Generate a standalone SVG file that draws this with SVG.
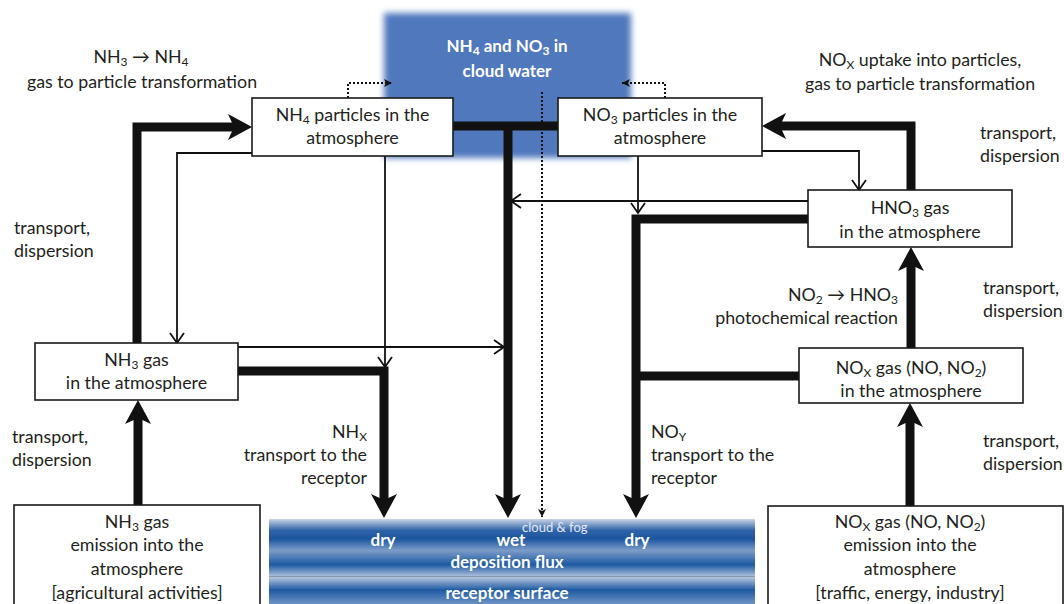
<svg xmlns="http://www.w3.org/2000/svg" width="1064" height="604" viewBox="0 0 1064 604">
<defs>
<style>
text{font-family:Lato,"Liberation Sans",sans-serif;font-size:17.8px;fill:#231f20}
.c{text-anchor:middle}
.e{text-anchor:end}
.w{fill:#fff;font-weight:bold;font-size:17px}
.box{fill:#fff;stroke:#1a1a1a;stroke-width:1.6}
.thick{fill:none;stroke:#111;stroke-width:9;stroke-linejoin:miter;stroke-linecap:butt}
.thin{fill:none;stroke:#111;stroke-width:1.8}
.dot{fill:none;stroke:#111;stroke-width:2;stroke-dasharray:2 2}
</style>
<marker id="big" markerUnits="userSpaceOnUse" markerWidth="30" markerHeight="30" refX="8" refY="13" orient="auto" overflow="visible">
<path d="M0,0 L24,13 L0,26 L6,13 Z" fill="#111"/>
</marker>
<marker id="open" markerUnits="userSpaceOnUse" markerWidth="14" markerHeight="16" refX="10" refY="7" orient="auto" overflow="visible">
<path d="M0,0 L10,7 L0,14" fill="none" stroke="#111" stroke-width="1.8"/>
</marker>
<marker id="small" markerUnits="userSpaceOnUse" markerWidth="12" markerHeight="12" refX="8" refY="4" orient="auto" overflow="visible">
<path d="M0,0 L8,4 L0,8 L2,4 Z" fill="#111"/>
</marker>
<filter id="soft" x="-10%" y="-10%" width="120%" height="120%"><feGaussianBlur stdDeviation="3"/></filter>
<linearGradient id="band1" x1="0" y1="0" x2="0" y2="1">
<stop offset="0" stop-color="#c9d3e6"/>
<stop offset="0.2" stop-color="#2f63a8"/>
<stop offset="0.35" stop-color="#1c569f"/>
<stop offset="0.55" stop-color="#7c9cc9"/>
<stop offset="0.8" stop-color="#1d5aa2"/>
<stop offset="1" stop-color="#a9bddb"/>
</linearGradient>
<linearGradient id="band2" x1="0" y1="0" x2="0" y2="1">
<stop offset="0" stop-color="#c3cfe4"/>
<stop offset="0.5" stop-color="#1d5aa2"/>
<stop offset="1" stop-color="#6f93c6"/>
</linearGradient>
</defs>
<rect width="1064" height="604" fill="#fff"/>

<g id="cloud">
<rect x="384" y="13" width="247" height="145" fill="#4f78bd" filter="url(#soft)"/>
<text class="c w" x="507" y="52">NH<tspan font-size="12" dy="3">4</tspan><tspan dy="-3"> and NO</tspan><tspan font-size="12" dy="3">3</tspan><tspan dy="-3"> in</tspan></text>
<text class="c w" x="507" y="77">cloud water</text>
</g>

<g id="deposition">
<rect x="269" y="519" width="486" height="57" fill="url(#band1)"/>
<rect x="269" y="576" width="486" height="28" fill="url(#band2)"/>
<line x1="269" y1="576.5" x2="755" y2="576.5" stroke="#8a97a8" stroke-width="1"/>
<text class="c w" x="383" y="546">dry</text>
<text class="c w" x="511" y="546">wet</text>
<text x="522" y="532" style="font-size:13px;fill:#e3e9f4">cloud &amp; fog</text>
<text class="c w" x="637" y="546">dry</text>
<text class="c w" x="507" y="568">deposition flux</text>
<text class="c w" x="507" y="599">receptor surface</text>
</g>

<g id="connectors">
<path class="thick" d="M137,343 V127 H236" marker-end="url(#big)"/>
<path class="thin" d="M252,153 H177 V343" marker-end="url(#open)"/>
<path class="thin" d="M385,156 V367" marker-end="url(#open)"/>
<path class="thick" d="M238,371 H384 V502" marker-end="url(#big)"/>
<path class="thin" d="M238,347 H504" marker-end="url(#open)"/>
<path class="thick" d="M453,126 H558"/>
<path class="thick" d="M508,126 V502" marker-end="url(#big)"/>
<path class="dot" d="M542,92 V517" marker-end="url(#small)"/>
<path class="dot" d="M348,98 V83 H392" marker-end="url(#small)"/>
<path class="dot" d="M665,98 V83 H622" marker-end="url(#small)"/>
<path class="thin" d="M638,156 V213" marker-end="url(#open)"/>
<path class="thick" d="M808,219 H636 V502" marker-end="url(#big)"/>
<path class="thick" d="M799,376 H636"/>
<path class="thin" d="M808,201 H511" marker-end="url(#open)"/>
<path class="thick" d="M911,348 V263" marker-end="url(#big)"/>
<path class="thick" d="M911,190 V126 H778" marker-end="url(#big)"/>
<path class="thin" d="M762,151 H859 V190" marker-end="url(#open)"/>
<path class="thick" d="M138,505 V416" marker-end="url(#big)"/>
<path class="thick" d="M910,506 V419" marker-end="url(#big)"/>
</g>

<g id="nh4_particles">
<rect class="box" x="252" y="98" width="201" height="58"/>
<text class="c" x="352.5" y="121">NH<tspan font-size="12" dy="3">4</tspan><tspan dy="-3"> particles in the</tspan></text>
<text class="c" x="352.5" y="144">atmosphere</text>
</g>

<g id="no3_particles">
<rect class="box" x="558" y="98" width="204" height="58"/>
<text class="c" x="660" y="121">NO<tspan font-size="12" dy="3">3</tspan><tspan dy="-3"> particles in the</tspan></text>
<text class="c" x="660" y="144">atmosphere</text>
</g>

<g id="nh3_gas">
<rect class="box" x="35" y="343" width="203" height="57"/>
<text class="c" x="136.5" y="366">NH<tspan font-size="12" dy="3">3</tspan><tspan dy="-3"> gas</tspan></text>
<text class="c" x="136.5" y="389">in the atmosphere</text>
</g>

<g id="hno3_gas">
<rect class="box" x="808" y="190" width="204" height="57"/>
<text class="c" x="910" y="214">HNO<tspan font-size="12" dy="3">3</tspan><tspan dy="-3"> gas</tspan></text>
<text class="c" x="910" y="238">in the atmosphere</text>
</g>

<g id="nox_gas">
<rect class="box" x="799" y="348" width="224" height="55"/>
<text class="c" x="911" y="374">NO<tspan font-size="12" dy="3">X</tspan><tspan dy="-3"> gas (NO, NO</tspan><tspan font-size="12" dy="3">2</tspan><tspan dy="-3">)</tspan></text>
<text class="c" x="911" y="397">in the atmosphere</text>
</g>

<g id="nh3_emission">
<rect class="box" x="14" y="505" width="246" height="104"/>
<text class="c" x="137" y="528">NH<tspan font-size="12" dy="3">3</tspan><tspan dy="-3"> gas</tspan></text>
<text class="c" x="137" y="551">emission into the</text>
<text class="c" x="137" y="575">atmosphere</text>
<text class="c" x="137" y="599">[agricultural activities]</text>
</g>

<g id="nox_emission">
<rect class="box" x="768" y="506" width="295" height="103"/>
<text class="c" x="910" y="528">NO<tspan font-size="12" dy="3">X</tspan><tspan dy="-3"> gas (NO, NO</tspan><tspan font-size="12" dy="3">2</tspan><tspan dy="-3">)</tspan></text>
<text class="c" x="910" y="551">emission into the</text>
<text class="c" x="910" y="575">atmosphere</text>
<text class="c" x="910" y="599">[traffic, energy, industry]</text>
</g>

<g id="labels">
<text class="c" x="141" y="63">NH<tspan font-size="12" dy="3">3</tspan><tspan dy="-3"> → NH</tspan><tspan font-size="12" dy="3">4</tspan></text>
<text class="c" x="142" y="88">gas to particle transformation</text>
<text class="c" x="920" y="66">NO<tspan font-size="12" dy="3">X</tspan><tspan dy="-3"> uptake into particles,</tspan></text>
<text class="c" x="920" y="90">gas to particle transformation</text>
<text x="980" y="139">transport,</text>
<text x="980" y="162">dispersion</text>
<text x="14" y="234">transport,</text>
<text x="14" y="257">dispersion</text>
<text x="983" y="294">transport,</text>
<text x="983" y="317">dispersion</text>
<text class="e" x="898" y="301">NO<tspan font-size="12" dy="3">2</tspan><tspan dy="-3"> → HNO</tspan><tspan font-size="12" dy="3">3</tspan></text>
<text class="e" x="898" y="324">photochemical reaction</text>
<text x="12" y="443">transport,</text>
<text x="12" y="466">dispersion</text>
<text x="983" y="447">transport,</text>
<text x="983" y="470">dispersion</text>
<text class="e" x="367" y="438">NH<tspan font-size="12" dy="3">X</tspan></text>
<text class="e" x="367" y="461">transport to the</text>
<text class="e" x="367" y="484">receptor</text>
<text x="651" y="438">NO<tspan font-size="12" dy="3">Y</tspan></text>
<text x="651" y="461">transport to the</text>
<text x="651" y="484">receptor</text>
</g>
</svg>
